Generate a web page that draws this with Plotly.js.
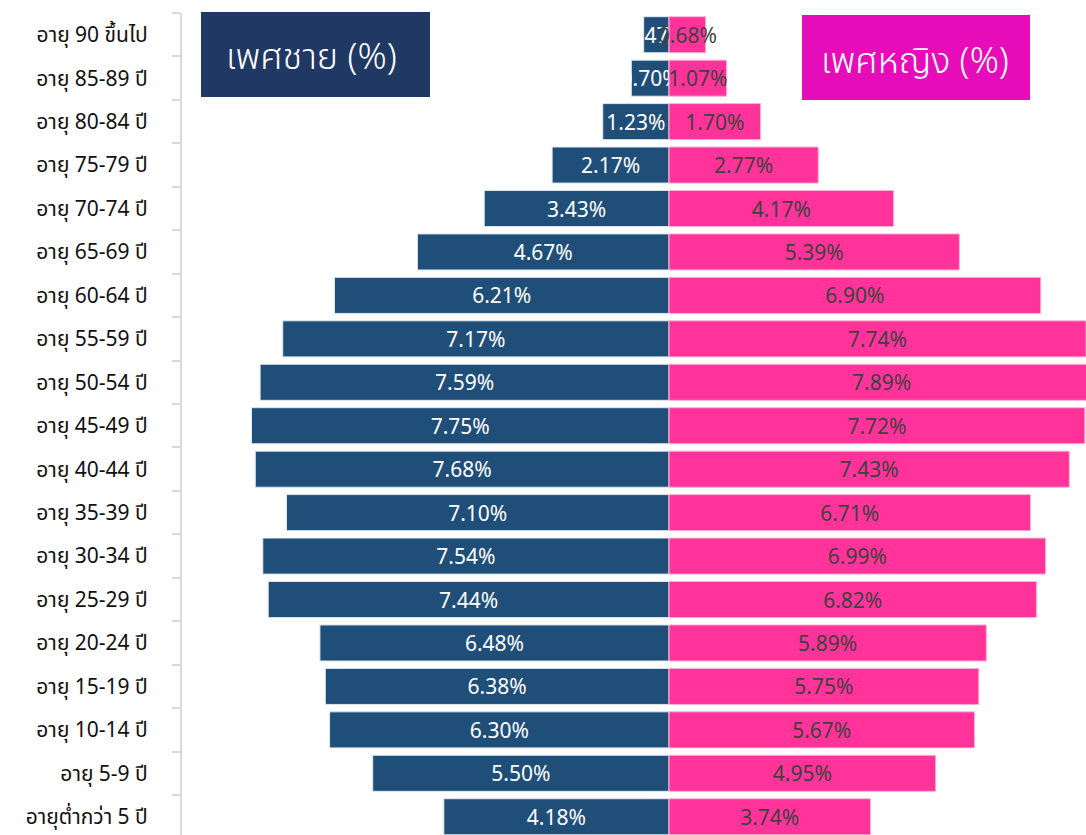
<!DOCTYPE html>
<html>
<head>
<meta charset="utf-8">
<script src="https://cdn.plot.ly/plotly-3.0.1.min.js"></script>
<style>html,body{margin:0;padding:0;background:#fff;overflow:hidden}#chart{width:1086px;height:835px}</style>
</head>
<body>
<div id="chart"></div>
<script>
const ageGroups = ["อายุต่ำกว่า 5 ปี","อายุ 5-9 ปี","อายุ 10-14 ปี","อายุ 15-19 ปี","อายุ 20-24 ปี","อายุ 25-29 ปี","อายุ 30-34 ปี","อายุ 35-39 ปี","อายุ 40-44 ปี","อายุ 45-49 ปี","อายุ 50-54 ปี","อายุ 55-59 ปี","อายุ 60-64 ปี","อายุ 65-69 ปี","อายุ 70-74 ปี","อายุ 75-79 ปี","อายุ 80-84 ปี","อายุ 85-89 ปี","อายุ 90 ขึ้นไป"];
const malePct = [4.18,5.50,6.30,6.38,6.48,7.44,7.54,7.10,7.68,7.75,7.59,7.17,6.21,4.67,3.43,2.17,1.23,0.70,0.47];
const femalePct = [3.74,4.95,5.67,5.75,5.89,6.82,6.99,6.71,7.43,7.72,7.89,7.74,6.90,5.39,4.17,2.77,1.70,1.07,0.68];
const maleLabel = "เพศชาย (%)";
const femaleLabel = "เพศหญิง (%)";

const fontFam = '"Noto Sans", "Noto Sans Thai", "Open Sans", sans-serif';

const male = {
  type: 'bar', orientation: 'h', y: ageGroups,
  x: malePct.map(v => -v),
  text: malePct.map(v => v.toFixed(2) + '%'),
  textposition: 'inside', insidetextanchor: 'middle', constraintext: 'none', textangle: 0,
  textfont: {color: '#ffffff', size: 21, family: fontFam},
  marker: {color: '#1F4E79', line: {color: '#dfe6ee', width: 1}},
  hoverinfo: 'none', cliponaxis: true
};
const female = {
  type: 'bar', orientation: 'h', y: ageGroups,
  x: femalePct,
  text: femalePct.map(v => v.toFixed(2) + '%'),
  textposition: 'inside', insidetextanchor: 'middle', constraintext: 'none', textangle: 0,
  textfont: {color: '#404040', size: 21, family: fontFam},
  marker: {color: '#FF3399', line: {color: '#ffb3d6', width: 1}},
  hoverinfo: 'none', cliponaxis: true
};

const layout = {
  width: 1086, height: 835,
  margin: {l: 182, r: 0, t: 13, b: 0},
  paper_bgcolor: '#ffffff', plot_bgcolor: '#ffffff',
  barmode: 'relative', bargap: 0.17,
  showlegend: false,
  font: {family: fontFam},
  xaxis: {range: [-9.04, 7.74], visible: false, fixedrange: true},
  yaxis: {
    type: 'category', range: [-0.42, 18.5], automargin: false,
    showline: true, linecolor: '#d9d9d9', linewidth: 2,
    ticks: 'outside', tickson: 'boundaries', ticklen: 8, tickcolor: '#d9d9d9', tickwidth: 2,
    ticklabelstandoff: 28,
    tickfont: {size: 21, color: '#111111', family: fontFam, weight: 400},
    showgrid: false, zeroline: false
  },
  shapes: [
    {type: 'rect', xref: 'paper', yref: 'paper', x0: 19/904, x1: 248/904, y0: 1 - (97-13)/822, y1: 1 - (12-13)/822, fillcolor: '#203864', line: {width: 0}, layer: 'above'},
    {type: 'rect', xref: 'paper', yref: 'paper', x0: 620/904, x1: 848/904, y0: 1 - (100-13)/822, y1: 1 - (15-13)/822, fillcolor: '#E60CB9', line: {width: 0}, layer: 'above'}
  ],
  annotations: [
    {xref: 'paper', yref: 'paper', x: 129/904, y: 1 - (55-13)/822, text: maleLabel, showarrow: false, xanchor: 'center', yanchor: 'middle', font: {size: 36, color: '#ffffff', family: fontFam, weight: 300}},
    {xref: 'paper', yref: 'paper', x: 733/904, y: 1 - (60-13)/822, text: femaleLabel, showarrow: false, xanchor: 'center', yanchor: 'middle', font: {size: 36, color: '#ffffff', family: fontFam, weight: 300}}
  ]
};

Plotly.newPlot('chart', [male, female], layout, {displayModeBar: false, staticPlot: true});
</script>
</body>
</html>
